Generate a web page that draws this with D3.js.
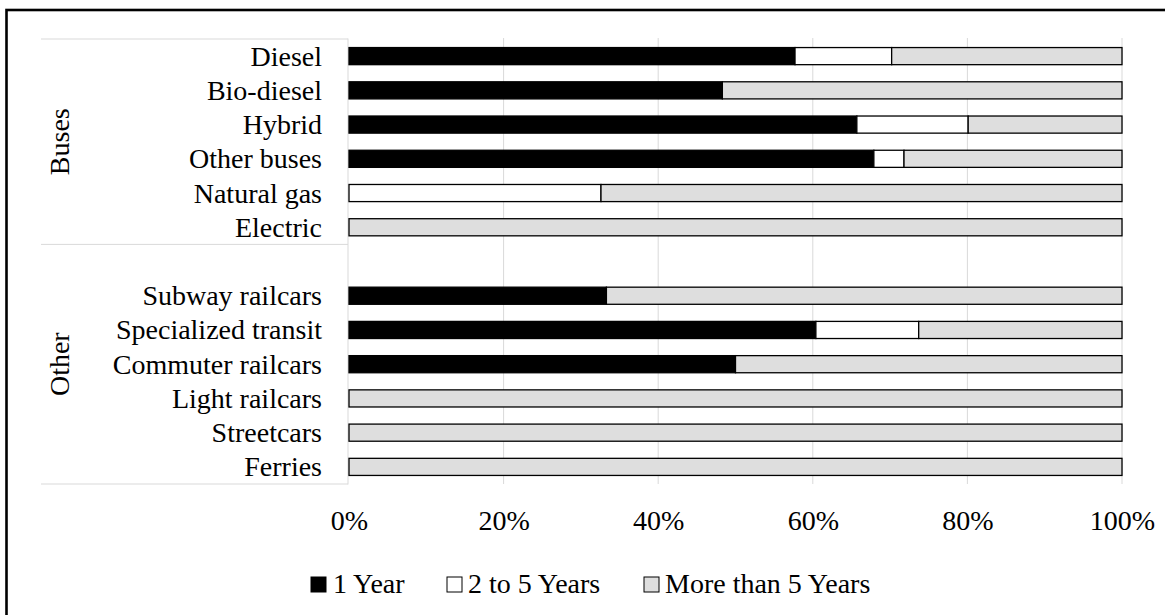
<!DOCTYPE html>
<html>
<head>
<meta charset="utf-8">
<script src="https://cdn.jsdelivr.net/npm/d3@7"></script>
<style>
  html, body { margin: 0; padding: 0; background: #fff; }
  svg { display: block; font-family: "Liberation Serif", "Times New Roman", serif; }
</style>
</head>
<body>
<svg id="chart" width="1165" height="615"></svg>
<script>
// ---- data ----
const categories = ["Diesel", "Bio-diesel", "Hybrid", "Other buses", "Natural gas", "Electric", "",
  "Subway railcars", "Specialized transit", "Commuter railcars", "Light railcars", "Streetcars", "Ferries"];
const oneYear     = [57.7, 48.3, 65.7, 67.9, 0,    0,   0, 33.3, 60.4, 50.0, 0,   0,   0];
const twoToFive   = [12.5, 0,    14.4, 3.9,  32.6, 0,   0, 0,    13.3, 0,    0,   0,   0];
const moreThan5   = [29.8, 51.7, 19.9, 28.2, 67.4, 100, 0, 66.7, 26.3, 50.0, 100, 100, 100];
const seriesNames = ["1 Year", "2 to 5 Years", "More than 5 Years"];
const seriesColors = ["#000000", "#ffffff", "#dedede"];
const groupNames = ["Buses", "Other"];
const groupSizes = [6, 7];
const xTicks = [0, 20, 40, 60, 80, 100];

// ---- layout ----
const svg = d3.select("#chart");
const x = d3.scaleLinear().domain([0, 100]).range([349, 1122]);
const y = d3.scaleBand().domain(categories).range([39, 484]).paddingInner(0.5).paddingOuter(0.25);
const step = y.step();

// outer border
svg.append("rect").attr("x", 6.5).attr("y", 10).attr("width", 1300).attr("height", 800)
  .attr("fill", "none").attr("stroke", "#000").attr("stroke-width", 2.6);

// gridlines
svg.append("g").selectAll("line").data(xTicks.filter(d => d > 0)).join("line")
  .attr("x1", d => x(d)).attr("x2", d => x(d))
  .attr("y1", 38).attr("y2", 484)
  .attr("stroke", "#d9d9d9").attr("stroke-width", 1);

// category axis lines
const axisG = svg.append("g").attr("stroke", "#d9d9d9").attr("stroke-width", 1);
axisG.append("line").attr("x1", 348).attr("x2", 348).attr("y1", 38.5).attr("y2", 484.5);
let acc = 0;
const boundaries = [39];
groupSizes.forEach(n => { acc += n; boundaries.push(39 + acc * step); });
boundaries.forEach(b => {
  axisG.append("line").attr("x1", 41).attr("x2", 348).attr("y1", b).attr("y2", b);
});

// stacked bars
const rows = categories.map((c, i) => ({ cat: c, "1 Year": oneYear[i], "2 to 5 Years": twoToFive[i], "More than 5 Years": moreThan5[i] }));
const stack = d3.stack().keys(seriesNames)(rows.filter(r => r.cat !== ""));
const color = d3.scaleOrdinal().domain(seriesNames).range(seriesColors);

stack.forEach(layer => {
  svg.append("g").selectAll("rect").data(layer.filter(d => d[1] - d[0] > 0)).join("rect")
    .attr("x", d => x(d[0]))
    .attr("width", d => x(d[1]) - x(d[0]))
    .attr("y", d => y(d.data.cat))
    .attr("height", y.bandwidth())
    .attr("fill", color(layer.key))
    .attr("stroke", "#000")
    .attr("stroke-width", 1.3);
});

// category labels
svg.append("g").selectAll("text").data(categories.filter(c => c !== "")).join("text")
  .attr("x", 322)
  .attr("y", d => y(d) + y.bandwidth() / 2 + 9.5)
  .attr("text-anchor", "end")
  .attr("font-size", 28)
  .attr("fill", "#000")
  .text(d => d);

// group labels
groupNames.forEach((g, i) => {
  const cy = (boundaries[i] + boundaries[i + 1]) / 2;
  svg.append("text")
    .attr("transform", `translate(69,${cy}) rotate(-90)`)
    .attr("text-anchor", "middle")
    .attr("font-size", 28)
    .attr("fill", "#000")
    .text(g);
});

// x axis tick labels
const xAxis = d3.axisBottom(x).tickValues(xTicks).tickSize(0).tickPadding(0).tickFormat(d => d + "%");
const xg = svg.append("g").attr("transform", "translate(0,530)").call(xAxis);
xg.select(".domain").remove();
xg.selectAll("text").attr("font-size", 28).attr("font-family", "Liberation Serif, Times New Roman, serif")
  .attr("fill", "#000").attr("dy", 0).attr("y", 0);

// legend
const legendItems = [
  { name: seriesNames[0], box: 311, text: 333 },
  { name: seriesNames[1], box: 447, text: 468 },
  { name: seriesNames[2], box: 644, text: 665 }
];
legendItems.forEach(li => {
  svg.append("rect").attr("x", li.box).attr("y", 577).attr("width", 15).attr("height", 15)
    .attr("fill", color(li.name)).attr("stroke", "#000").attr("stroke-width", 1);
  svg.append("text").attr("x", li.text).attr("y", 593).attr("font-size", 28).attr("fill", "#000").text(li.name);
});
</script>
</body>
</html>
